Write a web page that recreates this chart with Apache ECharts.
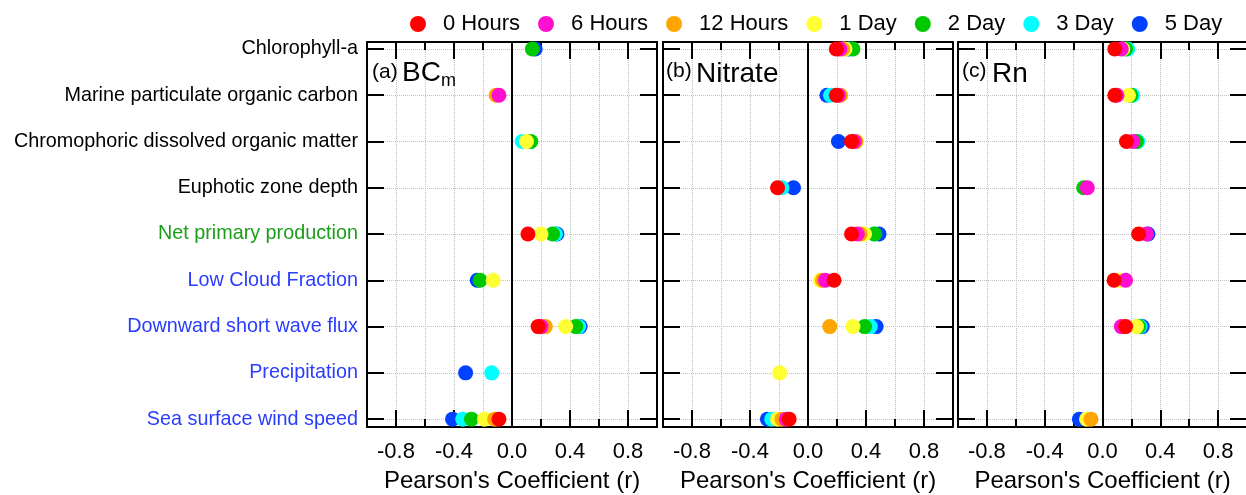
<!DOCTYPE html>
<html><head><meta charset="utf-8">
<script src="https://cdn.jsdelivr.net/npm/echarts@6/dist/echarts.min.js"></script>
<style>html,body{margin:0;padding:0;background:#fff}#c{width:1246px;height:495px}</style>
</head><body><div id="c"></div>
<script>
const categories = ['Chlorophyll-a','Marine particulate organic carbon','Chromophoric dissolved organic matter','Euphotic zone depth','Net primary production','Low Cloud Fraction','Downward short wave flux','Precipitation','Sea surface wind speed'];
const seriesNames = ['0 Hours','6 Hours','12 Hours','1 Day','2 Day','3 Day','5 Day'];
const xAxisName = "Pearson's Coefficient (r)";
const xTickLabels = [-0.8, -0.4, 0.0, 0.4, 0.8];

// Panel (a) BCm
const bcm_0h  = [null, null, null, null, 0.11, null, 0.18, null, -0.09];
const bcm_6h  = [null, -0.09, null, null, null, null, 0.20, null, null];
const bcm_12h = [null, -0.11, null, null, null, null, 0.23, null, -0.12];
const bcm_1d  = [null, null, 0.10, null, 0.20, -0.13, 0.37, null, -0.19];
const bcm_2d  = [0.14, null, 0.13, null, 0.28, -0.22, 0.44, null, -0.28];
const bcm_3d  = [null, null, 0.07, null, 0.30, null, 0.46, -0.14, -0.34];
const bcm_5d  = [0.16, null, null, null, 0.31, -0.24, 0.47, -0.32, -0.41];
// Panel (b) Nitrate
const no3_0h  = [0.195, 0.195, 0.30, -0.21, 0.30, 0.18, null, null, -0.13];
const no3_6h  = [0.22, 0.21, 0.32, null, 0.34, 0.12, null, null, -0.15];
const no3_12h = [0.24, 0.225, 0.33, null, 0.36, 0.10, 0.15, null, -0.18];
const no3_1d  = [0.255, null, 0.335, null, 0.39, 0.085, 0.31, -0.195, -0.21];
const no3_2d  = [0.31, null, null, null, 0.46, null, 0.39, null, null];
const no3_3d  = [0.29, 0.155, null, -0.18, 0.455, null, 0.43, null, -0.25];
const no3_5d  = [0.28, 0.13, 0.21, -0.10, 0.49, null, 0.47, null, -0.28];
// Panel (c) Rn
const rn_0h  = [0.085, 0.085, 0.166, null, 0.25, 0.08, 0.16, null, null];
const rn_6h  = [0.13, 0.10, 0.21, -0.105, 0.305, 0.16, 0.13, null, null];
const rn_12h = [null, null, null, null, null, null, null, null, -0.08];
const rn_1d  = [0.14, 0.18, null, null, null, 0.12, 0.235, null, -0.11];
const rn_2d  = [0.16, 0.196, 0.235, -0.13, null, null, 0.25, null, null];
const rn_3d  = [0.175, 0.21, 0.245, null, null, null, 0.26, null, null];
const rn_5d  = [null, null, null, null, 0.315, null, 0.275, null, -0.16];

const panelData = [
  [bcm_0h, bcm_6h, bcm_12h, bcm_1d, bcm_2d, bcm_3d, bcm_5d],
  [no3_0h, no3_6h, no3_12h, no3_1d, no3_2d, no3_3d, no3_5d],
  [rn_0h, rn_6h, rn_12h, rn_1d, rn_2d, rn_3d, rn_5d]
];

// styles
const colors = ['#ff0000','#ff10d0','#ffa500','#ffff33','#00c800','#00ffff','#0040ff'];
const labelKeys = ['k','k','k','k','g','b','b','b','b'];
const FONT = "'Liberation Sans', Arial, sans-serif";
const gridPos = [{left:367, width:290},{left:663, width:290},{left:958, width:289}];
const rowTicks = categories.map((c,i)=>i);

const chart = echarts.init(document.getElementById('c'), null, {renderer:'canvas'});
const grid = [], xAxis = [], yAxis = [], series = [];
const black = {color:'#000', width:2};
const dotted = {color:'#c0c0c0', type:'dotted', width:1};

gridPos.forEach((g, p) => {
  grid.push({left:g.left, top:42, width:g.width, height:385, outerBoundsMode:'none', show:false});
  const base = {gridIndex:p, type:'value', min:-1, max:1};
  xAxis.push(Object.assign({}, base, {
    interval:0.2, position:'bottom',
    axisLine:{show:true, onZero:false, lineStyle:black},
    axisTick:{show:true, inside:true, length:8, lineStyle:black},
    axisLabel:{show:true, margin:14, fontSize:22, color:'#000', fontFamily:FONT,
      formatter: v => { const r = Math.round(v*10); const t = xTickLabels.find(x => Math.round(x*10) === r); return t === undefined ? '' : t.toFixed(1); }},
    splitLine:{show:true, lineStyle:dotted},
    name:xAxisName, nameLocation:'middle', nameGap:42,
    nameTextStyle:{fontSize:24, color:'#000', fontFamily:FONT}
  }));
  xAxis.push(Object.assign({}, base, {
    position:'bottom', axisLine:{show:false, onZero:false},
    axisTick:{show:true, inside:true, length:17, customValues:xTickLabels.filter(v=>v!==0), lineStyle:black},
    axisLabel:{show:false}, splitLine:{show:false}
  }));
  xAxis.push(Object.assign({}, base, {
    interval:0.2, position:'top',
    axisLine:{show:true, onZero:false, lineStyle:black},
    axisTick:{show:true, inside:true, length:8, lineStyle:black},
    axisLabel:{show:false}, splitLine:{show:false}
  }));
  xAxis.push(Object.assign({}, base, {
    position:'top', axisLine:{show:false, onZero:false},
    axisTick:{show:true, inside:true, length:17, customValues:xTickLabels.filter(v=>v!==0), lineStyle:black},
    axisLabel:{show:false}, splitLine:{show:false}
  }));
  const ybase = {gridIndex:p, type:'value', inverse:true, min:-0.15, max:8.17};
  yAxis.push(Object.assign({}, ybase, {
    position:'left',
    axisLine:{show:true, onZero:false, lineStyle:black},
    axisTick:{show:true, inside:true, length:17, customValues:rowTicks, lineStyle:black},
    axisLabel:{show:p===0, customValues:rowTicks, margin:9,
      formatter: v => { const i = Math.round(v); return '{' + labelKeys[i] + '|' + categories[i] + '}'; },
      rich:{
        k:{color:'#000', fontSize:19.8, fontFamily:FONT},
        g:{color:'#1a9e1a', fontSize:19.8, fontFamily:FONT},
        b:{color:'#2a3cff', fontSize:19.8, fontFamily:FONT}
      }},
    splitLine:{show:true, lineStyle:dotted}
  }));
  yAxis.push(Object.assign({}, ybase, {
    position:'right',
    axisLine:{show:true, onZero:false, lineStyle:black},
    axisTick:{show:true, inside:true, length:17, customValues:rowTicks, lineStyle:black},
    axisLabel:{show:false}, splitLine:{show:false}
  }));
  // series drawn from last (5 Day, bottom) to first (0 Hours, top)
  for (let s = seriesNames.length - 1; s >= 0; s--) {
    const arr = panelData[p][s];
    const ser = {
      type:'scatter', name:seriesNames[s], xAxisIndex:p*4, yAxisIndex:p*2,
      symbol:'circle', symbolSize:15, itemStyle:{color:colors[s], opacity:1},
      data: arr.map((v, j) => [v, j]).filter(d => d[0] !== null),
      z: 3 + (seriesNames.length - s)
    };
    if (s === seriesNames.length - 1) {
      ser.markLine = {silent:true, symbol:['none','none'], label:{show:false},
        lineStyle:{color:'#000', width:2, type:'solid'}, data:[{xAxis:0}], z:2};
    }
    series.push(ser);
  }
});

const titleStyle = (text, size) => ({fill:'#000', text:text, fontSize:size, fontFamily:FONT});
const option = {
  backgroundColor:'#fff',
  animation:false,
  legend:{data:seriesNames, top:8, left:405, itemWidth:40, itemHeight:16, itemGap:18, icon:'circle',
    textStyle:{fontSize:22, color:'#000', fontFamily:FONT}},
  grid, xAxis, yAxis, series,
  graphic:[
    {type:'text', left:372, top:62, style:titleStyle('(a)', 21), z:10},
    {type:'text', left:402, top:59, style:titleStyle('BC', 28), z:10},
    {type:'text', left:441, top:72, style:titleStyle('m', 18), z:10},
    {type:'text', left:666, top:61, style:titleStyle('(b)', 21), z:10},
    {type:'text', left:696, top:60, style:titleStyle('Nitrate', 28), z:10},
    {type:'text', left:962, top:61, style:titleStyle('(c)', 21), z:10},
    {type:'text', left:992, top:60, style:titleStyle('Rn', 28), z:10}
  ]
};
chart.setOption(option);
</script></body></html>
